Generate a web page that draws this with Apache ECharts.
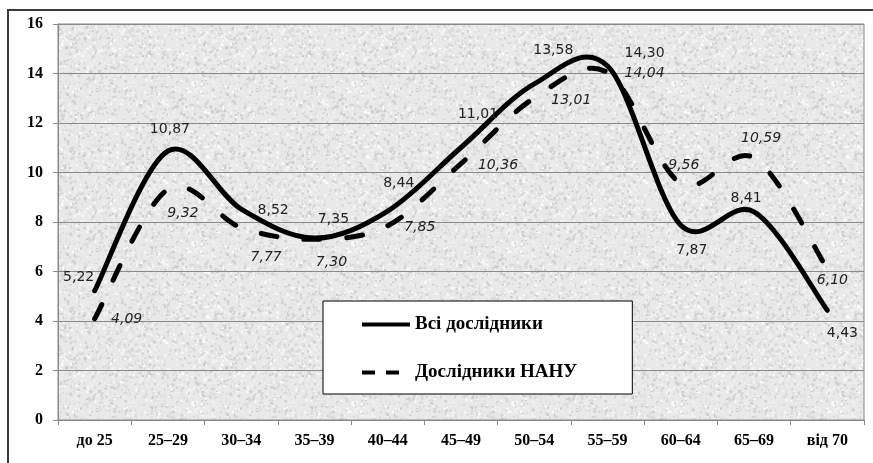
<!DOCTYPE html>
<html>
<head>
<meta charset="utf-8">
<script src="https://cdn.jsdelivr.net/npm/echarts@6/dist/echarts.min.js"></script>
<style>
html,body{margin:0;padding:0;background:#fff;}
#chart{width:873px;height:463px;}
</style>
</head>
<body>
<div id="chart"></div>
<script>
// ---- data ----
const categories = ['до 25','25–29','30–34','35–39','40–44','45–49','50–54','55–59','60–64','65–69','від 70'];
const allResearchers = [5.22, 10.87, 8.52, 7.35, 8.44, 11.01, 13.58, 14.30, 7.87, 8.41, 4.43];
const nasuResearchers = [4.09, 9.32, 7.77, 7.30, 7.85, 10.36, 13.01, 14.04, 9.56, 10.59, 6.10];
const yTicks = [0, 2, 4, 6, 8, 10, 12, 14, 16];
const seriesNames = ['Всі дослідники', 'Дослідники НАНУ'];

// label placement (style only)
const solidLabelOffsets = [[-16,-13],[2,-22],[32,1],[19,-19],[11,-28],[17,-33],[19,-34],[37,-13],[11,25],[-8,-13],[15,23]];
const dashLabelOffsets = [[32,1],[15,24],[25,30],[17,23],[32,2],[37,2],[37,2],[37,1],[3,-18],[7,-20],[5,11]];

// granite-like background texture (decoration only)
function makeTexture() {
  const c = document.createElement('canvas');
  c.width = 160; c.height = 160;
  const ctx = c.getContext('2d');
  ctx.fillStyle = '#e9e9e9';
  ctx.fillRect(0, 0, 160, 160);
  let s = 12345;
  function rnd() { s = (s * 1103515245 + 12345) & 0x7fffffff; return s / 0x7fffffff; }
  for (let i = 0; i < 3000; i++) {
    const x = rnd() * 160, y = rnd() * 160;
    const g = Math.round(200 + rnd() * 55);
    ctx.fillStyle = 'rgb(' + g + ',' + g + ',' + g + ')';
    const w = 1 + rnd() * 2, h = 1 + rnd() * 2;
    ctx.fillRect(x, y, w, h);
  }
  return c;
}

const fmt = v => v.toFixed(2).replace('.', ',');

// Excel-like smoothed path (Catmull-Rom -> cubic Bezier) through pixel points obtained from the axes
function smoothPath(pts) {
  let d = 'M' + pts[0][0] + ',' + pts[0][1];
  for (let i = 0; i < pts.length - 1; i++) {
    const p0 = pts[Math.max(0, i - 1)], p1 = pts[i], p2 = pts[i + 1], p3 = pts[Math.min(pts.length - 1, i + 2)];
    const c1x = p1[0] + (p2[0] - p0[0]) / 6, c1y = p1[1] + (p2[1] - p0[1]) / 6;
    const c2x = p2[0] - (p3[0] - p1[0]) / 6, c2y = p2[1] - (p3[1] - p1[1]) / 6;
    d += 'C' + c1x + ',' + c1y + ',' + c2x + ',' + c2y + ',' + p2[0] + ',' + p2[1];
  }
  return d;
}

function makeRender(values, offsets, dashed) {
  return function (params, api) {
    const i = params.dataIndex;
    const p = api.coord([i, api.value(1)]);
    const children = [];
    if (i === 0) {
      const pts = values.map((v, k) => api.coord([k, v]));
      children.push({
        type: 'path',
        shape: { pathData: smoothPath(pts) },
        style: {
          fill: null, stroke: '#000', lineWidth: 5,
          lineDash: dashed ? [16, 27] : null, lineCap: 'round', lineJoin: 'round'
        }
      });
    }
    children.push({
      type: 'text',
      x: p[0] + offsets[i][0], y: p[1] + offsets[i][1],
      z2: 10,
      style: {
        text: fmt(api.value(1)),
        font: (dashed ? 'italic ' : '') + '14px "DejaVu Sans", sans-serif',
        fill: '#222', align: 'center', verticalAlign: 'middle'
      }
    });
    return { type: 'group', children: children };
  };
}

const chart = echarts.init(document.getElementById('chart'));
const serifBold = { fontFamily: '"Liberation Serif", "Times New Roman", serif', fontWeight: 'bold', color: '#000' };

chart.setOption({
  animation: false,
  backgroundColor: '#fff',
  graphic: [{
    type: 'rect', z: -1, silent: true,
    shape: { x: 8, y: 10, width: 900, height: 500 },
    style: { fill: 'none', stroke: '#3a3a3a', lineWidth: 2 }
  }],
  grid: {
    left: 58, right: 9, top: 24, bottom: 43,
    show: true,
    backgroundColor: { image: makeTexture(), repeat: 'repeat' },
    borderColor: '#888', borderWidth: 1
  },
  legend: {
    left: 323, top: 301,
    orient: 'vertical',
    padding: [14, 55, 12, 39],
    borderColor: '#000', borderWidth: 1,
    backgroundColor: '#fff',
    itemWidth: 48, itemHeight: 4, itemGap: 29,
    textStyle: Object.assign({ fontSize: 19 }, serifBold),
    data: [
      { name: seriesNames[0], icon: 'path://M0,0H48V4H0Z' },
      { name: seriesNames[1], icon: 'path://M0,0H13V4H0Z M24,0H37V4H24Z M48,0H48V4H48Z' }
    ],
    itemStyle: { color: '#000' }
  },
  xAxis: {
    type: 'category',
    data: categories,
    boundaryGap: true,
    axisLine: { lineStyle: { color: '#888' } },
    axisTick: { show: true, length: 5, lineStyle: { color: '#888' } },
    axisLabel: Object.assign({ fontSize: 16, margin: 13 }, serifBold)
  },
  yAxis: {
    type: 'value',
    min: yTicks[0], max: yTicks[yTicks.length - 1], interval: 2,
    axisLine: { show: true, lineStyle: { color: '#888' } },
    axisTick: { show: true, length: 5, lineStyle: { color: '#888' } },
    splitLine: { lineStyle: { color: '#8a8a8a', width: 1 } },
    axisLabel: Object.assign({ fontSize: 16, margin: 15 }, serifBold)
  },
  series: [
    {
      name: seriesNames[0],
      type: 'custom',
      itemStyle: { color: '#000' },
      clip: false,
      renderItem: makeRender(allResearchers, solidLabelOffsets, false),
      data: allResearchers.map((v, i) => [i, v])
    },
    {
      name: seriesNames[1],
      type: 'custom',
      itemStyle: { color: '#000' },
      clip: false,
      renderItem: makeRender(nasuResearchers, dashLabelOffsets, true),
      data: nasuResearchers.map((v, i) => [i, v])
    }
  ]
});
</script>
</body>
</html>
